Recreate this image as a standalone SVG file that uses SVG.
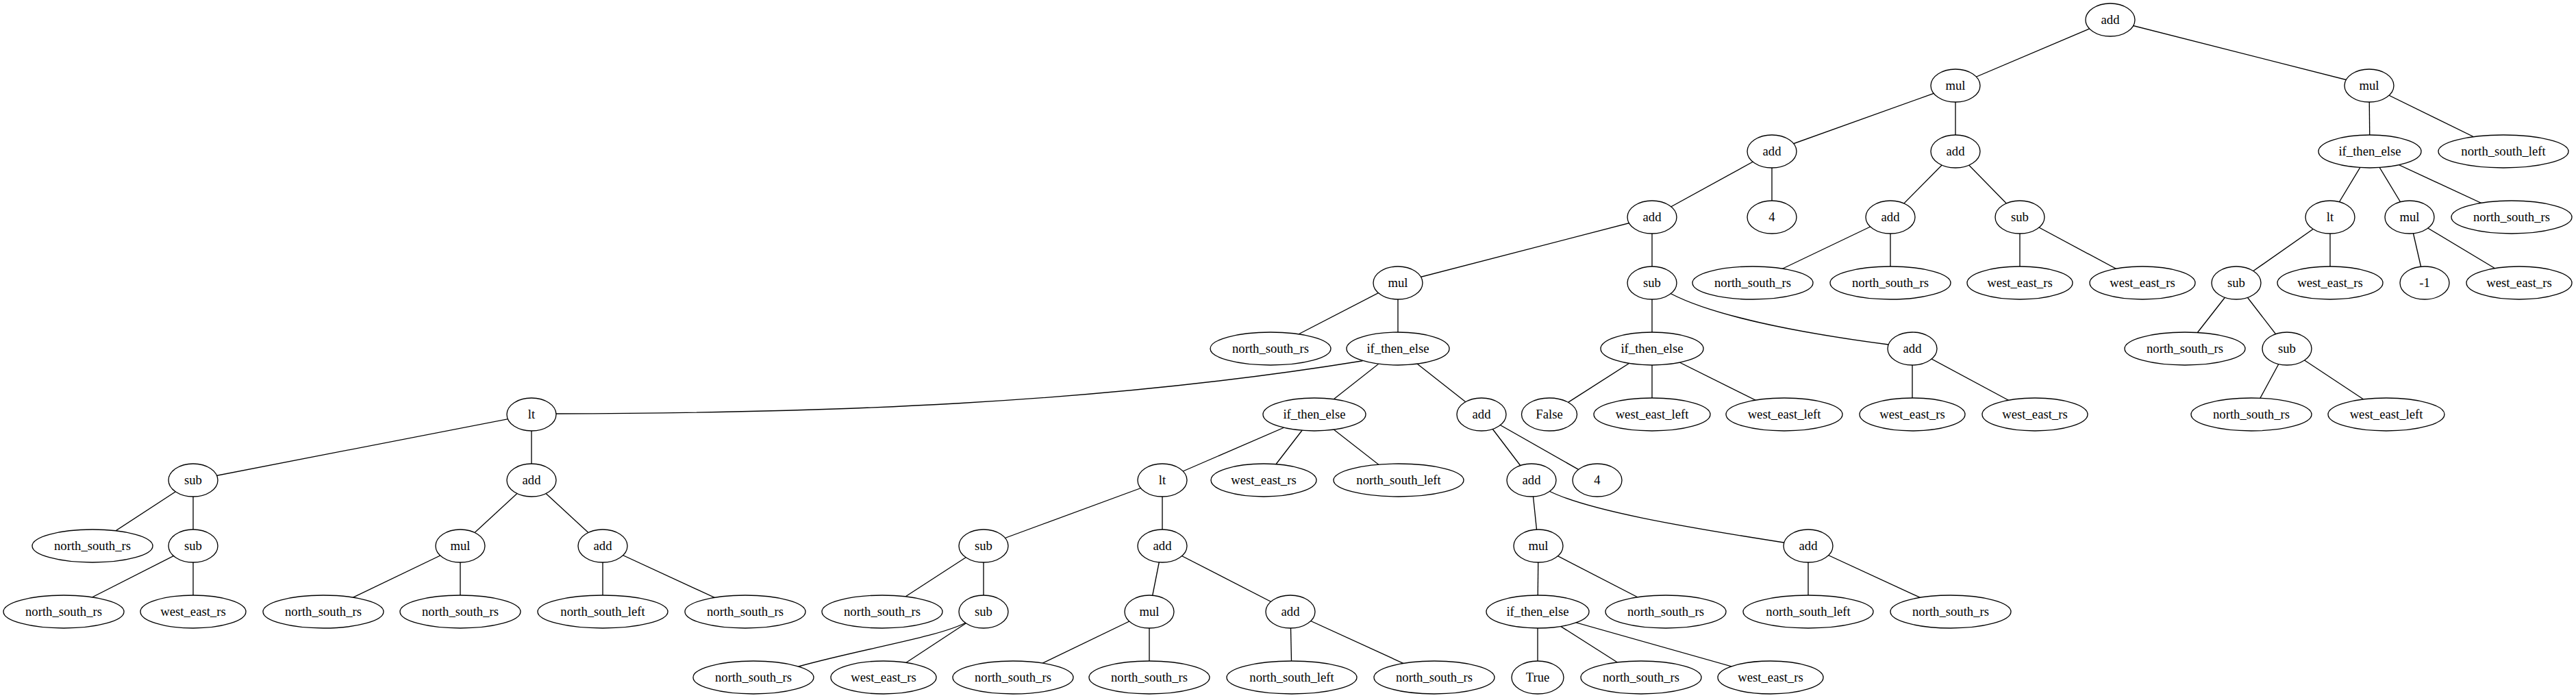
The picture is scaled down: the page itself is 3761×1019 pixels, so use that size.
<svg xmlns="http://www.w3.org/2000/svg" width="3761" height="1019" viewBox="0 0 3761 1019">
<style>
.node ellipse{fill:#fff;stroke:#000;stroke-width:1.33}
.node text{font-family:"Liberation Serif","Times New Roman",serif;font-size:18.67px;text-anchor:middle;fill:#000}
#edges line,#edges path{stroke:#000;stroke-width:1.33;fill:none}
</style>
<rect width="3761" height="1019" fill="#fff"/>
<g id="edges">
<line x1="3081" y1="29" x2="2855" y2="125"/>
<line x1="3081" y1="29" x2="3459" y2="125"/>
<line x1="2855" y1="125" x2="2587" y2="221"/>
<line x1="2855" y1="125" x2="2855" y2="221"/>
<line x1="2587" y1="221" x2="2412" y2="317"/>
<line x1="2587" y1="221" x2="2587" y2="317"/>
<line x1="2412" y1="317" x2="2041" y2="413"/>
<line x1="2412" y1="317" x2="2412" y2="413"/>
<line x1="2041" y1="413" x2="1855" y2="509"/>
<line x1="2041" y1="413" x2="2041" y2="509"/>
<path d="M2041,509 L1988,527 C1600,590 1200,603 812,604 L776,605"/>
<line x1="2041" y1="509" x2="1919" y2="605"/>
<line x1="2041" y1="509" x2="2163" y2="605"/>
<line x1="776" y1="605" x2="282" y2="701"/>
<line x1="776" y1="605" x2="776" y2="701"/>
<line x1="282" y1="701" x2="135" y2="797"/>
<line x1="282" y1="701" x2="282" y2="797"/>
<line x1="282" y1="797" x2="93" y2="893"/>
<line x1="282" y1="797" x2="282" y2="893"/>
<line x1="776" y1="701" x2="672" y2="797"/>
<line x1="776" y1="701" x2="880" y2="797"/>
<line x1="672" y1="797" x2="472" y2="893"/>
<line x1="672" y1="797" x2="672" y2="893"/>
<line x1="880" y1="797" x2="880" y2="893"/>
<line x1="880" y1="797" x2="1088" y2="893"/>
<line x1="1919" y1="605" x2="1697" y2="701"/>
<line x1="1919" y1="605" x2="1845" y2="701"/>
<line x1="1919" y1="605" x2="2042" y2="701"/>
<line x1="1697" y1="701" x2="1436" y2="797"/>
<line x1="1697" y1="701" x2="1697" y2="797"/>
<line x1="1436" y1="797" x2="1288" y2="893"/>
<line x1="1436" y1="797" x2="1436" y2="893"/>
<path d="M1436,893 L1410,909 C1370,930 1260,947 1166,973 L1100,989"/>
<line x1="1436" y1="893" x2="1290" y2="989"/>
<line x1="1697" y1="797" x2="1678" y2="893"/>
<line x1="1697" y1="797" x2="1884" y2="893"/>
<line x1="1678" y1="893" x2="1479" y2="989"/>
<line x1="1678" y1="893" x2="1678" y2="989"/>
<line x1="1884" y1="893" x2="1886" y2="989"/>
<line x1="1884" y1="893" x2="2094" y2="989"/>
<line x1="2163" y1="605" x2="2236" y2="701"/>
<line x1="2163" y1="605" x2="2332" y2="701"/>
<line x1="2236" y1="701" x2="2246" y2="797"/>
<path d="M2236,701 L2264,718 C2320,745 2450,768 2604,792 L2640,797"/>
<line x1="2246" y1="797" x2="2245" y2="893"/>
<line x1="2246" y1="797" x2="2432" y2="893"/>
<line x1="2245" y1="893" x2="2245" y2="989"/>
<line x1="2245" y1="893" x2="2396" y2="989"/>
<line x1="2245" y1="893" x2="2585" y2="989"/>
<line x1="2640" y1="797" x2="2640" y2="893"/>
<line x1="2640" y1="797" x2="2848" y2="893"/>
<line x1="2412" y1="413" x2="2412" y2="509"/>
<path d="M2412,413 L2440,429 C2500,460 2620,485 2757,503 L2792,509"/>
<line x1="2412" y1="509" x2="2262" y2="605"/>
<line x1="2412" y1="509" x2="2412" y2="605"/>
<line x1="2412" y1="509" x2="2605" y2="605"/>
<line x1="2792" y1="509" x2="2792" y2="605"/>
<line x1="2792" y1="509" x2="2971" y2="605"/>
<line x1="2855" y1="221" x2="2760" y2="317"/>
<line x1="2855" y1="221" x2="2949" y2="317"/>
<line x1="2760" y1="317" x2="2559" y2="413"/>
<line x1="2760" y1="317" x2="2760" y2="413"/>
<line x1="2949" y1="317" x2="2949" y2="413"/>
<line x1="2949" y1="317" x2="3128" y2="413"/>
<line x1="3459" y1="125" x2="3460" y2="221"/>
<line x1="3459" y1="125" x2="3655" y2="221"/>
<line x1="3460" y1="221" x2="3402" y2="317"/>
<line x1="3460" y1="221" x2="3518" y2="317"/>
<line x1="3460" y1="221" x2="3667" y2="317"/>
<line x1="3402" y1="317" x2="3265" y2="413"/>
<line x1="3402" y1="317" x2="3402" y2="413"/>
<line x1="3265" y1="413" x2="3190" y2="509"/>
<line x1="3265" y1="413" x2="3339" y2="509"/>
<line x1="3339" y1="509" x2="3287" y2="605"/>
<line x1="3339" y1="509" x2="3484" y2="605"/>
<line x1="3518" y1="317" x2="3540" y2="413"/>
<line x1="3518" y1="317" x2="3678" y2="413"/>
</g>
<g id="n0" class="node"><ellipse cx="3081" cy="29" rx="36" ry="24"/><text x="3081" y="35">add</text></g>
<g id="n1" class="node"><ellipse cx="2855" cy="125" rx="36" ry="24"/><text x="2855" y="131">mul</text></g>
<g id="n2" class="node"><ellipse cx="2587" cy="221" rx="36" ry="24"/><text x="2587" y="227">add</text></g>
<g id="n3" class="node"><ellipse cx="2412" cy="317" rx="36" ry="24"/><text x="2412" y="323">add</text></g>
<g id="n4" class="node"><ellipse cx="2041" cy="413" rx="36" ry="24"/><text x="2041" y="419">mul</text></g>
<g id="n5" class="node"><ellipse cx="1855" cy="509" rx="88" ry="24"/><text x="1855" y="515">north_south_rs</text></g>
<g id="n6" class="node"><ellipse cx="2041" cy="509" rx="75" ry="24"/><text x="2041" y="515">if_then_else</text></g>
<g id="n7" class="node"><ellipse cx="776" cy="605" rx="36" ry="24"/><text x="776" y="611">lt</text></g>
<g id="n8" class="node"><ellipse cx="282" cy="701" rx="36" ry="24"/><text x="282" y="707">sub</text></g>
<g id="n9" class="node"><ellipse cx="135" cy="797" rx="88" ry="24"/><text x="135" y="803">north_south_rs</text></g>
<g id="n10" class="node"><ellipse cx="282" cy="797" rx="36" ry="24"/><text x="282" y="803">sub</text></g>
<g id="n11" class="node"><ellipse cx="93" cy="893" rx="88" ry="24"/><text x="93" y="899">north_south_rs</text></g>
<g id="n12" class="node"><ellipse cx="282" cy="893" rx="77" ry="24"/><text x="282" y="899">west_east_rs</text></g>
<g id="n13" class="node"><ellipse cx="776" cy="701" rx="36" ry="24"/><text x="776" y="707">add</text></g>
<g id="n14" class="node"><ellipse cx="672" cy="797" rx="36" ry="24"/><text x="672" y="803">mul</text></g>
<g id="n15" class="node"><ellipse cx="472" cy="893" rx="88" ry="24"/><text x="472" y="899">north_south_rs</text></g>
<g id="n16" class="node"><ellipse cx="672" cy="893" rx="88" ry="24"/><text x="672" y="899">north_south_rs</text></g>
<g id="n17" class="node"><ellipse cx="880" cy="797" rx="36" ry="24"/><text x="880" y="803">add</text></g>
<g id="n18" class="node"><ellipse cx="880" cy="893" rx="95" ry="24"/><text x="880" y="899">north_south_left</text></g>
<g id="n19" class="node"><ellipse cx="1088" cy="893" rx="88" ry="24"/><text x="1088" y="899">north_south_rs</text></g>
<g id="n20" class="node"><ellipse cx="1919" cy="605" rx="75" ry="24"/><text x="1919" y="611">if_then_else</text></g>
<g id="n21" class="node"><ellipse cx="1697" cy="701" rx="36" ry="24"/><text x="1697" y="707">lt</text></g>
<g id="n22" class="node"><ellipse cx="1436" cy="797" rx="36" ry="24"/><text x="1436" y="803">sub</text></g>
<g id="n23" class="node"><ellipse cx="1288" cy="893" rx="88" ry="24"/><text x="1288" y="899">north_south_rs</text></g>
<g id="n24" class="node"><ellipse cx="1436" cy="893" rx="36" ry="24"/><text x="1436" y="899">sub</text></g>
<g id="n25" class="node"><ellipse cx="1100" cy="989" rx="88" ry="24"/><text x="1100" y="995">north_south_rs</text></g>
<g id="n26" class="node"><ellipse cx="1290" cy="989" rx="77" ry="24"/><text x="1290" y="995">west_east_rs</text></g>
<g id="n27" class="node"><ellipse cx="1697" cy="797" rx="36" ry="24"/><text x="1697" y="803">add</text></g>
<g id="n28" class="node"><ellipse cx="1678" cy="893" rx="36" ry="24"/><text x="1678" y="899">mul</text></g>
<g id="n29" class="node"><ellipse cx="1479" cy="989" rx="88" ry="24"/><text x="1479" y="995">north_south_rs</text></g>
<g id="n30" class="node"><ellipse cx="1678" cy="989" rx="88" ry="24"/><text x="1678" y="995">north_south_rs</text></g>
<g id="n31" class="node"><ellipse cx="1884" cy="893" rx="36" ry="24"/><text x="1884" y="899">add</text></g>
<g id="n32" class="node"><ellipse cx="1886" cy="989" rx="95" ry="24"/><text x="1886" y="995">north_south_left</text></g>
<g id="n33" class="node"><ellipse cx="2094" cy="989" rx="88" ry="24"/><text x="2094" y="995">north_south_rs</text></g>
<g id="n34" class="node"><ellipse cx="1845" cy="701" rx="77" ry="24"/><text x="1845" y="707">west_east_rs</text></g>
<g id="n35" class="node"><ellipse cx="2042" cy="701" rx="95" ry="24"/><text x="2042" y="707">north_south_left</text></g>
<g id="n36" class="node"><ellipse cx="2163" cy="605" rx="36" ry="24"/><text x="2163" y="611">add</text></g>
<g id="n37" class="node"><ellipse cx="2236" cy="701" rx="36" ry="24"/><text x="2236" y="707">add</text></g>
<g id="n38" class="node"><ellipse cx="2246" cy="797" rx="36" ry="24"/><text x="2246" y="803">mul</text></g>
<g id="n39" class="node"><ellipse cx="2245" cy="893" rx="75" ry="24"/><text x="2245" y="899">if_then_else</text></g>
<g id="n40" class="node"><ellipse cx="2245" cy="989" rx="38" ry="24"/><text x="2245" y="995">True</text></g>
<g id="n41" class="node"><ellipse cx="2396" cy="989" rx="88" ry="24"/><text x="2396" y="995">north_south_rs</text></g>
<g id="n42" class="node"><ellipse cx="2585" cy="989" rx="77" ry="24"/><text x="2585" y="995">west_east_rs</text></g>
<g id="n43" class="node"><ellipse cx="2432" cy="893" rx="88" ry="24"/><text x="2432" y="899">north_south_rs</text></g>
<g id="n44" class="node"><ellipse cx="2640" cy="797" rx="36" ry="24"/><text x="2640" y="803">add</text></g>
<g id="n45" class="node"><ellipse cx="2640" cy="893" rx="95" ry="24"/><text x="2640" y="899">north_south_left</text></g>
<g id="n46" class="node"><ellipse cx="2848" cy="893" rx="88" ry="24"/><text x="2848" y="899">north_south_rs</text></g>
<g id="n47" class="node"><ellipse cx="2332" cy="701" rx="36" ry="24"/><text x="2332" y="707">4</text></g>
<g id="n48" class="node"><ellipse cx="2412" cy="413" rx="36" ry="24"/><text x="2412" y="419">sub</text></g>
<g id="n49" class="node"><ellipse cx="2412" cy="509" rx="75" ry="24"/><text x="2412" y="515">if_then_else</text></g>
<g id="n50" class="node"><ellipse cx="2262" cy="605" rx="40.5" ry="24"/><text x="2262" y="611">False</text></g>
<g id="n51" class="node"><ellipse cx="2412" cy="605" rx="85" ry="24"/><text x="2412" y="611">west_east_left</text></g>
<g id="n52" class="node"><ellipse cx="2605" cy="605" rx="85" ry="24"/><text x="2605" y="611">west_east_left</text></g>
<g id="n53" class="node"><ellipse cx="2792" cy="509" rx="36" ry="24"/><text x="2792" y="515">add</text></g>
<g id="n54" class="node"><ellipse cx="2792" cy="605" rx="77" ry="24"/><text x="2792" y="611">west_east_rs</text></g>
<g id="n55" class="node"><ellipse cx="2971" cy="605" rx="77" ry="24"/><text x="2971" y="611">west_east_rs</text></g>
<g id="n56" class="node"><ellipse cx="2587" cy="317" rx="36" ry="24"/><text x="2587" y="323">4</text></g>
<g id="n57" class="node"><ellipse cx="2855" cy="221" rx="36" ry="24"/><text x="2855" y="227">add</text></g>
<g id="n58" class="node"><ellipse cx="2760" cy="317" rx="36" ry="24"/><text x="2760" y="323">add</text></g>
<g id="n59" class="node"><ellipse cx="2559" cy="413" rx="88" ry="24"/><text x="2559" y="419">north_south_rs</text></g>
<g id="n60" class="node"><ellipse cx="2760" cy="413" rx="88" ry="24"/><text x="2760" y="419">north_south_rs</text></g>
<g id="n61" class="node"><ellipse cx="2949" cy="317" rx="36" ry="24"/><text x="2949" y="323">sub</text></g>
<g id="n62" class="node"><ellipse cx="2949" cy="413" rx="77" ry="24"/><text x="2949" y="419">west_east_rs</text></g>
<g id="n63" class="node"><ellipse cx="3128" cy="413" rx="77" ry="24"/><text x="3128" y="419">west_east_rs</text></g>
<g id="n64" class="node"><ellipse cx="3459" cy="125" rx="36" ry="24"/><text x="3459" y="131">mul</text></g>
<g id="n65" class="node"><ellipse cx="3460" cy="221" rx="75" ry="24"/><text x="3460" y="227">if_then_else</text></g>
<g id="n66" class="node"><ellipse cx="3402" cy="317" rx="36" ry="24"/><text x="3402" y="323">lt</text></g>
<g id="n67" class="node"><ellipse cx="3265" cy="413" rx="36" ry="24"/><text x="3265" y="419">sub</text></g>
<g id="n68" class="node"><ellipse cx="3190" cy="509" rx="88" ry="24"/><text x="3190" y="515">north_south_rs</text></g>
<g id="n69" class="node"><ellipse cx="3339" cy="509" rx="36" ry="24"/><text x="3339" y="515">sub</text></g>
<g id="n70" class="node"><ellipse cx="3287" cy="605" rx="88" ry="24"/><text x="3287" y="611">north_south_rs</text></g>
<g id="n71" class="node"><ellipse cx="3484" cy="605" rx="85" ry="24"/><text x="3484" y="611">west_east_left</text></g>
<g id="n72" class="node"><ellipse cx="3402" cy="413" rx="77" ry="24"/><text x="3402" y="419">west_east_rs</text></g>
<g id="n73" class="node"><ellipse cx="3518" cy="317" rx="36" ry="24"/><text x="3518" y="323">mul</text></g>
<g id="n74" class="node"><ellipse cx="3540" cy="413" rx="36" ry="24"/><text x="3540" y="419">-1</text></g>
<g id="n75" class="node"><ellipse cx="3678" cy="413" rx="77" ry="24"/><text x="3678" y="419">west_east_rs</text></g>
<g id="n76" class="node"><ellipse cx="3667" cy="317" rx="88" ry="24"/><text x="3667" y="323">north_south_rs</text></g>
<g id="n77" class="node"><ellipse cx="3655" cy="221" rx="95" ry="24"/><text x="3655" y="227">north_south_left</text></g>
</svg>
